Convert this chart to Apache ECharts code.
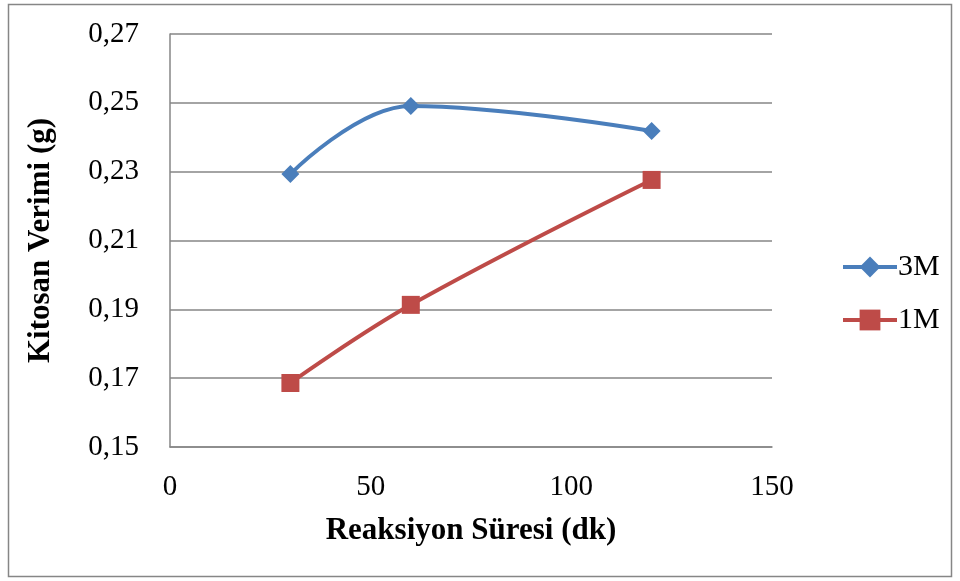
<!DOCTYPE html>
<html><head><meta charset="utf-8">
<script src="https://cdn.jsdelivr.net/npm/echarts@6/dist/echarts.min.js"></script>
<style>html,body{margin:0;padding:0;background:#fff}#c{width:960px;height:581px}</style>
</head><body><div id="c"></div>
<script>
const xTimes = [30, 60, 120];
const y3M = [0.2293, 0.2491, 0.2418];
const y1M = [0.1686, 0.1913, 0.2276];
const seriesNames = ['3M', '1M'];
const xTitle = 'Reaksiyon Süresi (dk)';
const yTitle = 'Kitosan Verimi (g)';

const font = 'Liberation Serif';
const chart = echarts.init(document.getElementById('c'));
chart.setOption({
  animation: false,
  backgroundColor: '#fff',
  graphic: [{type:'rect', shape:{x:8.5,y:4.5,width:943,height:572}, style:{fill:'none', stroke:'#868686', lineWidth:1.5}}],
  grid: {left:170, right:188, top:34, bottom:134},
  legend: {
    orient:'vertical', left:836, top:247, itemGap:23, itemWidth:54, itemHeight:26,
    textStyle:{fontFamily:font, fontSize:30, color:'#000', padding:[0,0,0,-4]},
    lineStyle:{width:4},
    data: seriesNames
  },
  xAxis: {
    type:'value', min:0, max:150, interval:50,
    axisLine:{show:true, lineStyle:{color:'#868686', width:1.5}},
    axisTick:{show:false}, splitLine:{show:false},
    axisLabel:{fontFamily:font, fontSize:29, color:'#000', margin:26},
    name:xTitle, nameLocation:'middle', nameGap:68,
    nameTextStyle:{fontFamily:font, fontSize:31, fontWeight:'bold', color:'#000'}
  },
  yAxis: {
    type:'value', min:0.15, max:0.27, interval:0.02,
    axisLine:{show:true, lineStyle:{color:'#868686', width:1.5}},
    axisTick:{show:false},
    splitLine:{show:true, lineStyle:{color:'#868686', width:1.5}},
    axisLabel:{fontFamily:font, fontSize:29, color:'#000', margin:31,
      formatter:v => v.toFixed(2).replace('.', ',')},
    name:yTitle, nameLocation:'middle', nameGap:114,
    nameTextStyle:{fontFamily:font, fontSize:31, fontWeight:'bold', color:'#000'}
  },
  series: [
    {name:seriesNames[0], type:'line', smooth:0.4, data:xTimes.map((x,i)=>[x,y3M[i]]),
     symbol:'diamond', symbolSize:18, lineStyle:{color:'#4A7EBB', width:4},
     itemStyle:{color:'#4A7EBB'}},
    {name:seriesNames[1], type:'line', smooth:0.4, data:xTimes.map((x,i)=>[x,y1M[i]]),
     symbol:'rect', symbolSize:18, lineStyle:{color:'#BE4B48', width:4},
     itemStyle:{color:'#BE4B48'}}
  ]
});
</script></body></html>
